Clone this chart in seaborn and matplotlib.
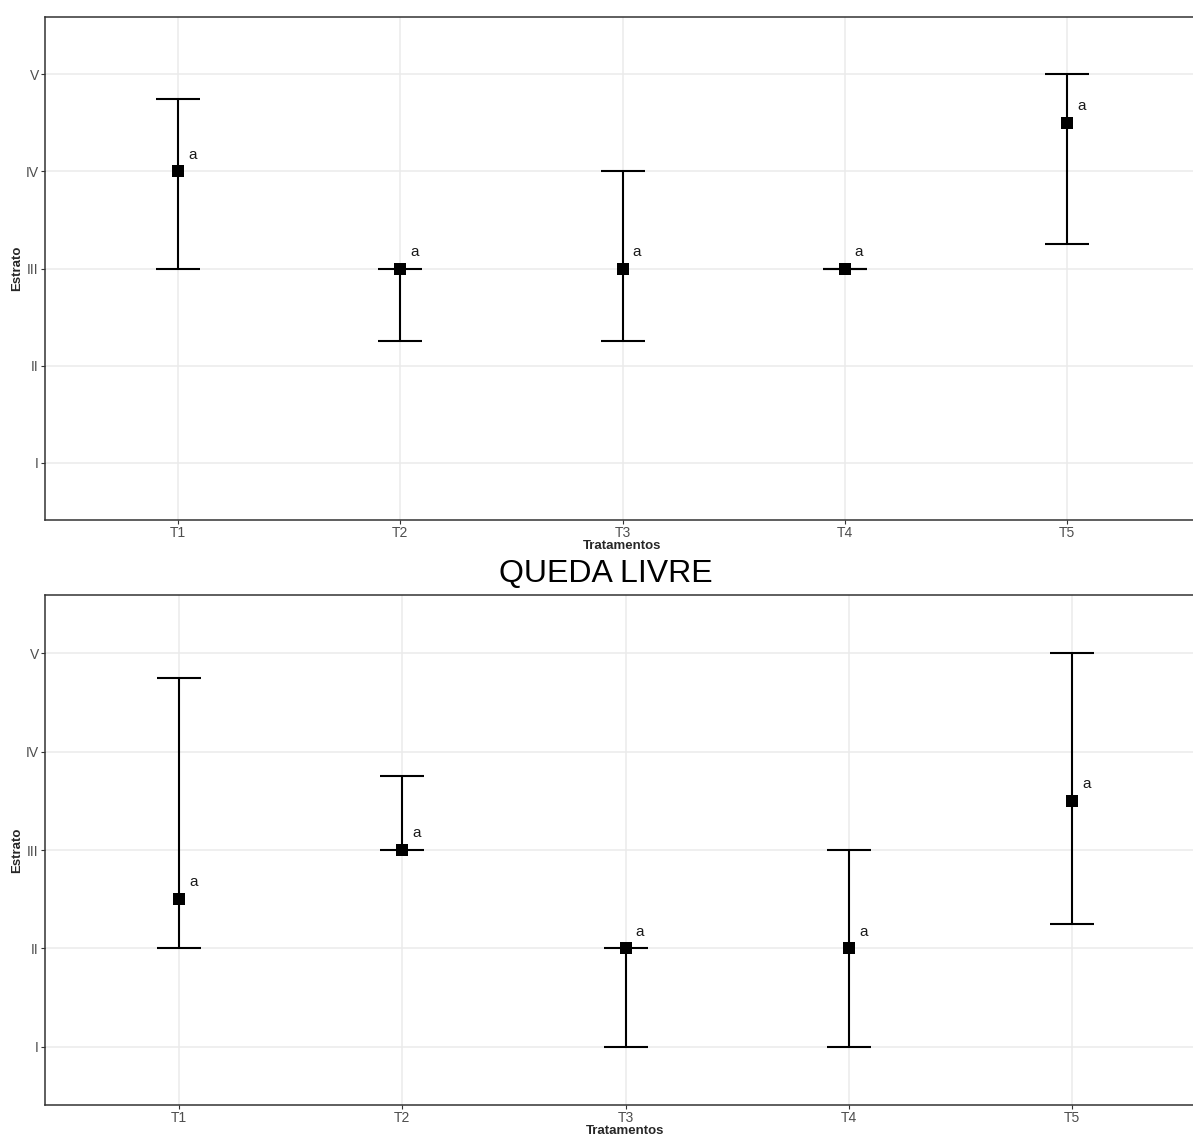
import numpy as np
import pandas as pd
import matplotlib
matplotlib.use("Agg")
import matplotlib.pyplot as plt
import seaborn as sns

# dados
tratamentos = ["T1", "T2", "T3", "T4", "T5"]
estratos = ["I", "II", "III", "IV", "V"]

# painel de cima
media_1 = [4.0, 3.0, 3.0, 3.0, 4.5]
inf_1 = [3.0, 2.25, 2.25, 3.0, 3.25]
sup_1 = [4.75, 3.0, 4.0, 3.0, 5.0]
letras_1 = ["a", "a", "a", "a", "a"]

# painel de baixo (queda livre)
media_2 = [2.5, 3.0, 2.0, 2.0, 3.5]
inf_2 = [2.0, 3.0, 1.0, 1.0, 2.25]
sup_2 = [4.75, 3.75, 2.0, 3.0, 5.0]
letras_2 = ["a", "a", "a", "a", "a"]

sns.set_theme(style="whitegrid")
plt.rcParams['font.family'] = ['Liberation Sans', 'DejaVu Sans']

fig = plt.figure(figsize=(11.93, 11.36), dpi=100)
ax1 = fig.add_axes([45/1193, 1 - 520/1136, 1155/1193, 503/1136])
ax2 = fig.add_axes([45/1193, 1 - 1105/1136, 1161/1193, 510/1136])


def painel(ax, media, inf, sup, letras):
    df = pd.DataFrame({"Tratamentos": tratamentos, "Estrato": media,
                       "inf": inf, "sup": sup, "letra": letras})
    yerr = np.array([df["Estrato"] - df["inf"], df["sup"] - df["Estrato"]])
    ax.errorbar(df["Tratamentos"], df["Estrato"], yerr=yerr, fmt="none",
                ecolor="black", elinewidth=1.5, capsize=15.8, capthick=1.5, zorder=2)
    sns.scatterplot(data=df, x="Tratamentos", y="Estrato", marker="s", s=66,
                    color="black", edgecolor="black", linewidth=0, ax=ax, zorder=3)
    for i, row in df.iterrows():
        ax.text(i + 0.065, row["Estrato"] + 0.17, row["letra"], fontsize=11,
                color="#1a1a1a", ha="center", va="center")
    ax.set_xlim(-0.6, 4.6)
    ax.set_ylim(0.41, 5.59)
    ax.set_yticks([1, 2, 3, 4, 5])
    ax.set_yticklabels(estratos)
    ax.grid(True, color="#ebebeb", linewidth=1.1)
    ax.tick_params(axis="both", which="both", length=3, width=0.8, color="#333333",
                   labelcolor="#4d4d4d", labelsize=10, pad=1.5, left=True, bottom=True)
    for s in ax.spines.values():
        s.set_color("#333333")
        s.set_linewidth(1.1)
    ax.set_xlabel("Tratamentos", fontsize=9.5, fontweight="bold", labelpad=0)
    ax.set_ylabel("Estrato", fontsize=9.5, fontweight="bold", labelpad=2)


painel(ax1, media_1, inf_1, sup_1, letras_1)
painel(ax2, media_2, inf_2, sup_2, letras_2)

fig.text(606/1193, 1 - 574/1136, "QUEDA LIVRE", fontsize=23, ha="center", va="center",
         color="black")

fig.savefig("out.png", dpi=100)
